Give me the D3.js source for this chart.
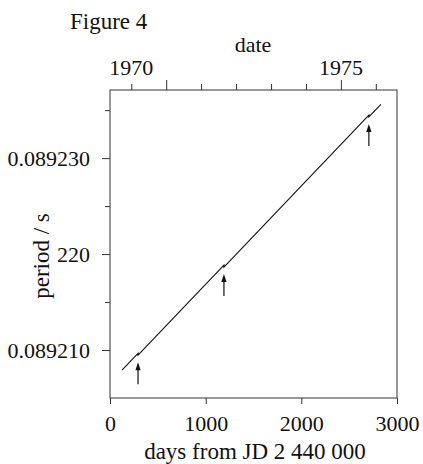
<!DOCTYPE html>
<html>
<head>
<meta charset="utf-8">
<script src="https://cdn.jsdelivr.net/npm/d3@7"></script>
<style>
  body { margin: 0; background: #fff; }
  text { font-family: "Liberation Serif", "Times New Roman", serif; fill: #111; }
</style>
</head>
<body>
<svg id="chart" width="423" height="464"></svg>
<script>
// period trend between glitches: [start, end] of each segment
var segDays = [[125, 293], [293, 1191], [1191, 2706], [2706, 2832]];
var segPeriods = [[0.0892079, 0.08920966], [0.08920946, 0.08921885],
                  [0.08921865, 0.08923449], [0.08923429, 0.08923561]];
var glitchDays = [293, 1191, 2706];

var xTicks = [0, 1000, 2000, 3000];
var yMajor = [0.089210, 0.089220, 0.089230];
var yMajorLabels = ["0.089210", "220", "0.089230"];
var yMinor = [0.089215, 0.089225, 0.089235];

var years = [1969, 1970, 1971, 1972, 1973, 1974, 1975, 1976];
var majorYears = [1970, 1975];
var yearLabels = ["1970", "1975"];
var yearLabelAt = [1969, 1975];

var margin = { left: 110, right: 26, top: 90, bottom: 66 };
var width = 423, height = 464;

var svg = d3.select("#chart");

var x = d3.scaleLinear().domain([0, 3000]).range([margin.left, width - margin.right]);
var y = d3.scaleLinear().domain([0.089205, 0.0892371]).range([height - margin.bottom, margin.top]);

// JD 2 440 000 offset of 1 January of a year
var dayOf = function (yr) {
  return Date.UTC(yr, 0, 1) / 86400000 + 2440587.5 - 2440000;
}

var styleAxis = function (g) {
  g.select(".domain").remove();
  g.selectAll(".tick line").attr("stroke", "#333");
  g.selectAll(".tick text").style("font-size", "22px").attr("fill", "#111")
    .style("font-family", "\"Liberation Serif\", serif");
}

// bottom axis
svg.append("g")
  .attr("transform", "translate(0," + y.range()[0] + ")")
  .call(d3.axisBottom(x).tickValues(xTicks).tickSize(6).tickPadding(11).tickFormat(d3.format("d")))
  .call(styleAxis);

// left axis
svg.append("g")
  .attr("transform", "translate(" + x.range()[0] + ",0)")
  .call(d3.axisLeft(y).tickValues(yMajor).tickSize(8).tickPadding(12)
    .tickFormat(function (d, i) { return yMajorLabels[i]; }))
  .call(styleAxis);

svg.append("g")
  .attr("transform", "translate(" + x.range()[0] + ",0)")
  .call(d3.axisLeft(y).tickValues(yMinor).tickSize(5).tickFormat(""))
  .call(styleAxis);

// top axis: years
svg.append("g")
  .attr("transform", "translate(0," + y.range()[1] + ")")
  .call(d3.axisTop(x).tickValues(years.filter(function (yr) { return majorYears.indexOf(yr) < 0; }).map(dayOf))
    .tickSize(6).tickFormat(""))
  .call(styleAxis);

svg.append("g")
  .attr("transform", "translate(0," + y.range()[1] + ")")
  .call(d3.axisTop(x).tickValues(majorYears.map(dayOf)).tickSize(10).tickFormat(""))
  .call(styleAxis);

svg.selectAll(".yearLabel")
  .data(yearLabels)
  .enter().append("text")
  .attr("class", "yearLabel")
  .attr("x", function (d, i) { return x(dayOf(yearLabelAt[i])); })
  .attr("y", 75)
  .attr("text-anchor", "middle")
  .style("font-size", "22px")
  .text(function (d) { return d; });

// frame
svg.append("rect")
  .attr("x", x.range()[0])
  .attr("y", y.range()[1])
  .attr("width", x.range()[1] - x.range()[0])
  .attr("height", y.range()[0] - y.range()[1])
  .attr("fill", "none")
  .attr("stroke", "#333")
  .attr("stroke-width", 1);

// period line
var pts = [];
segDays.forEach(function (d, i) {
  pts.push([d[0], segPeriods[i][0]]);
  pts.push([d[1], segPeriods[i][1]]);
});

svg.append("path")
  .datum(pts)
  .attr("fill", "none")
  .attr("stroke", "#111")
  .attr("stroke-width", 1.1)
  .attr("d", d3.line().x(function (d) { return x(d[0]); }).y(function (d) { return y(d[1]); }));

// glitch arrows
glitchDays.forEach(function (day, i) {
  var gx = x(day);
  var gy = y(segPeriods[i][1]);
  svg.append("line")
    .attr("x1", gx).attr("x2", gx)
    .attr("y1", gy + 14).attr("y2", gy + 31)
    .attr("stroke", "#111").attr("stroke-width", 1.2);
  svg.append("path")
    .attr("d", "M" + gx + "," + (gy + 9) + "L" + (gx - 2.6) + "," + (gy + 17) + "L" + (gx + 2.6) + "," + (gy + 17) + "Z")
    .attr("fill", "#111");
});

// titles
svg.append("text")
  .attr("x", 70).attr("y", 29)
  .style("font-size", "23px")
  .text("Figure 4");

svg.append("text")
  .attr("x", 253).attr("y", 52)
  .attr("text-anchor", "middle")
  .style("font-size", "22px")
  .text("date");

svg.append("text")
  .attr("transform", "translate(49,256) rotate(-90)")
  .attr("text-anchor", "middle")
  .style("font-size", "23px")
  .text("period / s");

svg.append("text")
  .attr("x", 255).attr("y", 459)
  .attr("text-anchor", "middle")
  .style("font-size", "23px")
  .text("days from JD 2 440 000");
</script>
</body>
</html>
